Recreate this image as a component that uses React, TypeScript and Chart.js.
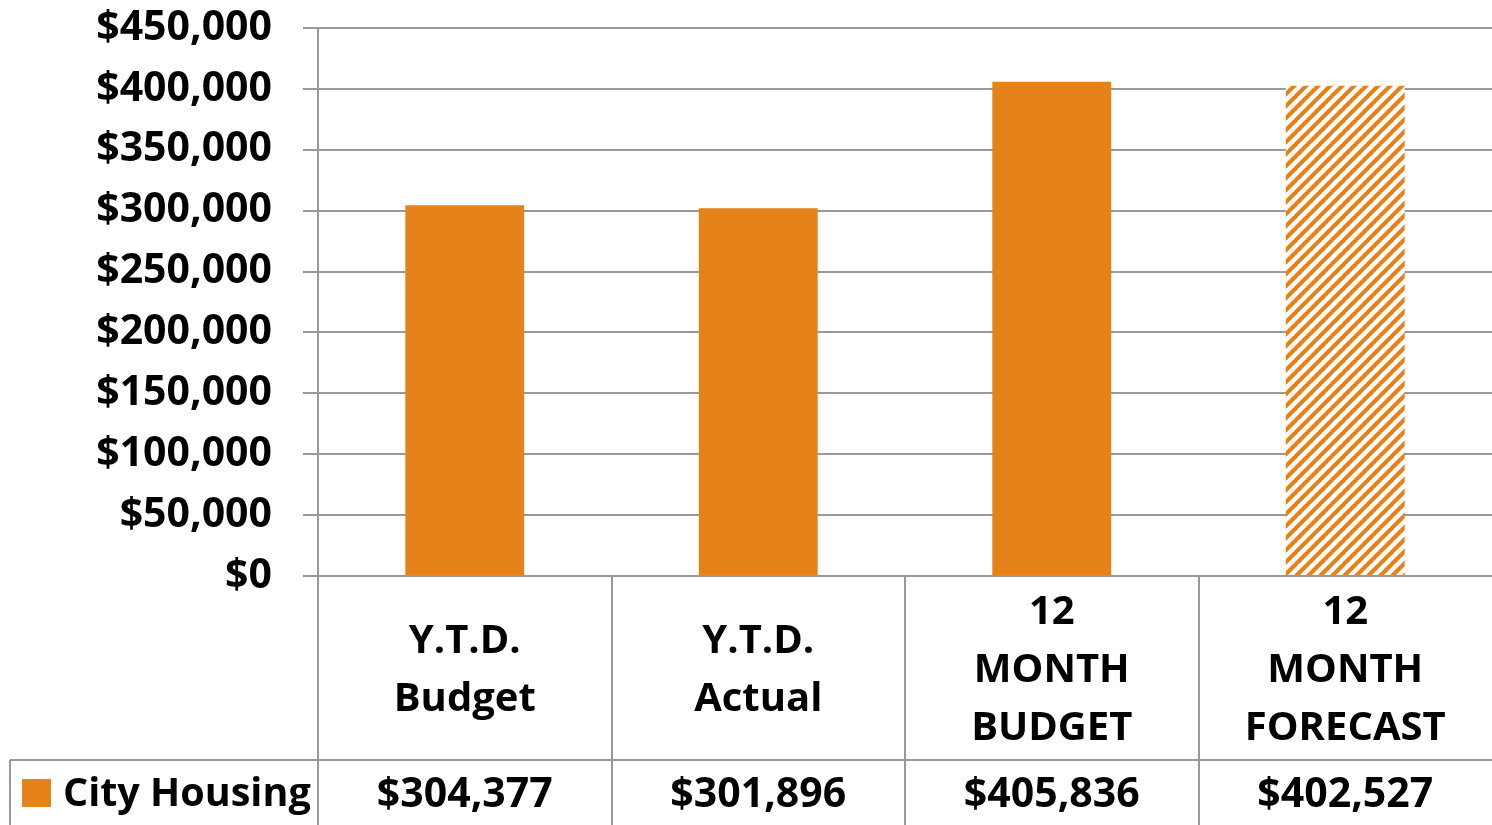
import React, { useEffect, useRef } from "react";
import { Chart, registerables } from "chart.js";

Chart.register(...registerables);

const categories: string[][] = [
  ["Y.T.D.", "Budget"],
  ["Y.T.D.", "Actual"],
  ["12", "MONTH", "BUDGET"],
  ["12", "MONTH", "FORECAST"],
];
const seriesName = "City Housing";
const cityHousing = [304377, 301896, 405836, 402527];
const hatched = [false, false, false, true];
const yMin = 0;
const yMax = 450000;
const yStep = 50000;

const ORANGE = "#E5821A";
const GRID = "#999999";
const FONT = "'Open Sans', Lato, sans-serif";

const fmt = (v: number) => "$" + Math.round(v).toLocaleString("en-US");

function makePattern(): CanvasPattern | string {
  const s = 12;
  const c = document.createElement("canvas");
  c.width = s;
  c.height = s;
  const g = c.getContext("2d");
  if (!g) return ORANGE;
  g.fillStyle = "#ffffff";
  g.fillRect(0, 0, s, s);
  g.strokeStyle = ORANGE;
  g.lineWidth = 4.2;
  g.beginPath();
  for (let k = -1; k <= 1; k++) {
    g.moveTo(k * s - 1, s + 1);
    g.lineTo(k * s + s + 1, -1);
  }
  g.stroke();
  const p = g.createPattern(c, "repeat");
  return p || ORANGE;
}

const tablePlugin = {
  id: "dataTable",
  afterDraw(chart: any) {
    const ctx = chart.ctx as CanvasRenderingContext2D;
    const area = chart.chartArea;
    const xs = chart.scales.x;
    const H = chart.height;
    const n = categories.length;
    const rowTop = area.bottom + 184;
    const tableLeft = 10;
    const bounds: number[] = [area.left];
    for (let i = 0; i < n - 1; i++) {
      bounds.push((xs.getPixelForValue(i) + xs.getPixelForValue(i + 1)) / 2);
    }
    ctx.save();
    ctx.strokeStyle = GRID;
    ctx.lineWidth = 2;
    ctx.beginPath();
    bounds.forEach((b) => {
      const x = Math.round(b);
      ctx.moveTo(x, area.bottom);
      ctx.lineTo(x, H);
    });
    ctx.moveTo(tableLeft, rowTop);
    ctx.lineTo(area.right, rowTop);
    ctx.moveTo(tableLeft, rowTop);
    ctx.lineTo(tableLeft, H);
    ctx.stroke();

    ctx.fillStyle = "#000";
    ctx.textAlign = "center";
    ctx.textBaseline = "middle";
    ctx.font = `bold 40px ${FONT}`;
    const midY = (area.bottom + rowTop) / 2 + 3;
    const lh = 58;
    categories.forEach((lines, i) => {
      const x = xs.getPixelForValue(i);
      const start = midY - ((lines.length - 1) * lh) / 2;
      lines.forEach((t, j) => ctx.fillText(t, x, start + j * lh));
    });

    const valY = rowTop + 35;
    ctx.font = `bold 41px ${FONT}`;
    cityHousing.forEach((v, i) => {
      ctx.fillText(fmt(v), xs.getPixelForValue(i), valY);
    });

    ctx.fillStyle = ORANGE;
    ctx.fillRect(22, rowTop + 19, 29, 28);
    ctx.fillStyle = "#000";
    ctx.textAlign = "left";
    ctx.font = `bold 39.5px ${FONT}`;
    ctx.fillText(seriesName, 63, valY);
    ctx.restore();
  },
};

export default function App() {
  const ref = useRef<HTMLCanvasElement | null>(null);
  useEffect(() => {
    document.body.style.margin = "0";
    if (!ref.current) return;
    const pattern = makePattern();
    const chart = new Chart(ref.current, {
      type: "bar",
      data: {
        labels: categories.map((c) => c.join(" ")),
        datasets: [
          {
            label: seriesName,
            data: cityHousing,
            backgroundColor: cityHousing.map((_, i) => (hatched[i] ? pattern : ORANGE)) as any,
            borderWidth: 0,
            barPercentage: 0.405,
            categoryPercentage: 1,
          },
        ],
      },
      options: {
        animation: false,
        responsive: false,
        maintainAspectRatio: false,
        layout: { padding: { top: 28, right: 0, left: 0, bottom: 0 } },
        plugins: { legend: { display: false }, tooltip: { enabled: false } },
        scales: {
          x: {
            grid: { display: false },
            border: { display: false },
            ticks: { display: false },
            afterFit: (s: any) => {
              s.height = 249;
              s.paddingLeft = 0;
              s.paddingRight = 0;
            },
          },
          y: {
            min: yMin,
            max: yMax,
            ticks: {
              stepSize: yStep,
              padding: 31,
              color: "#000",
              font: { family: FONT, size: 41, weight: "bold" },
              callback: (v: any) => fmt(Number(v)),
            },
            grid: { color: GRID, lineWidth: 2, tickLength: 15 },
            border: { color: GRID, width: 2 },
            afterFit: (s: any) => {
              s.width = 318;
              s.paddingTop = 0;
              s.paddingBottom = 0;
            },
          },
        },
      },
      plugins: [tablePlugin],
    });
    return () => chart.destroy();
  }, []);
  return (
    <div style={{ position: "absolute", left: 0, top: 0, width: 1492, height: 825, background: "#fff" }}>
      <canvas ref={ref} width={1492} height={825} style={{ display: "block" }} />
    </div>
  );
}
